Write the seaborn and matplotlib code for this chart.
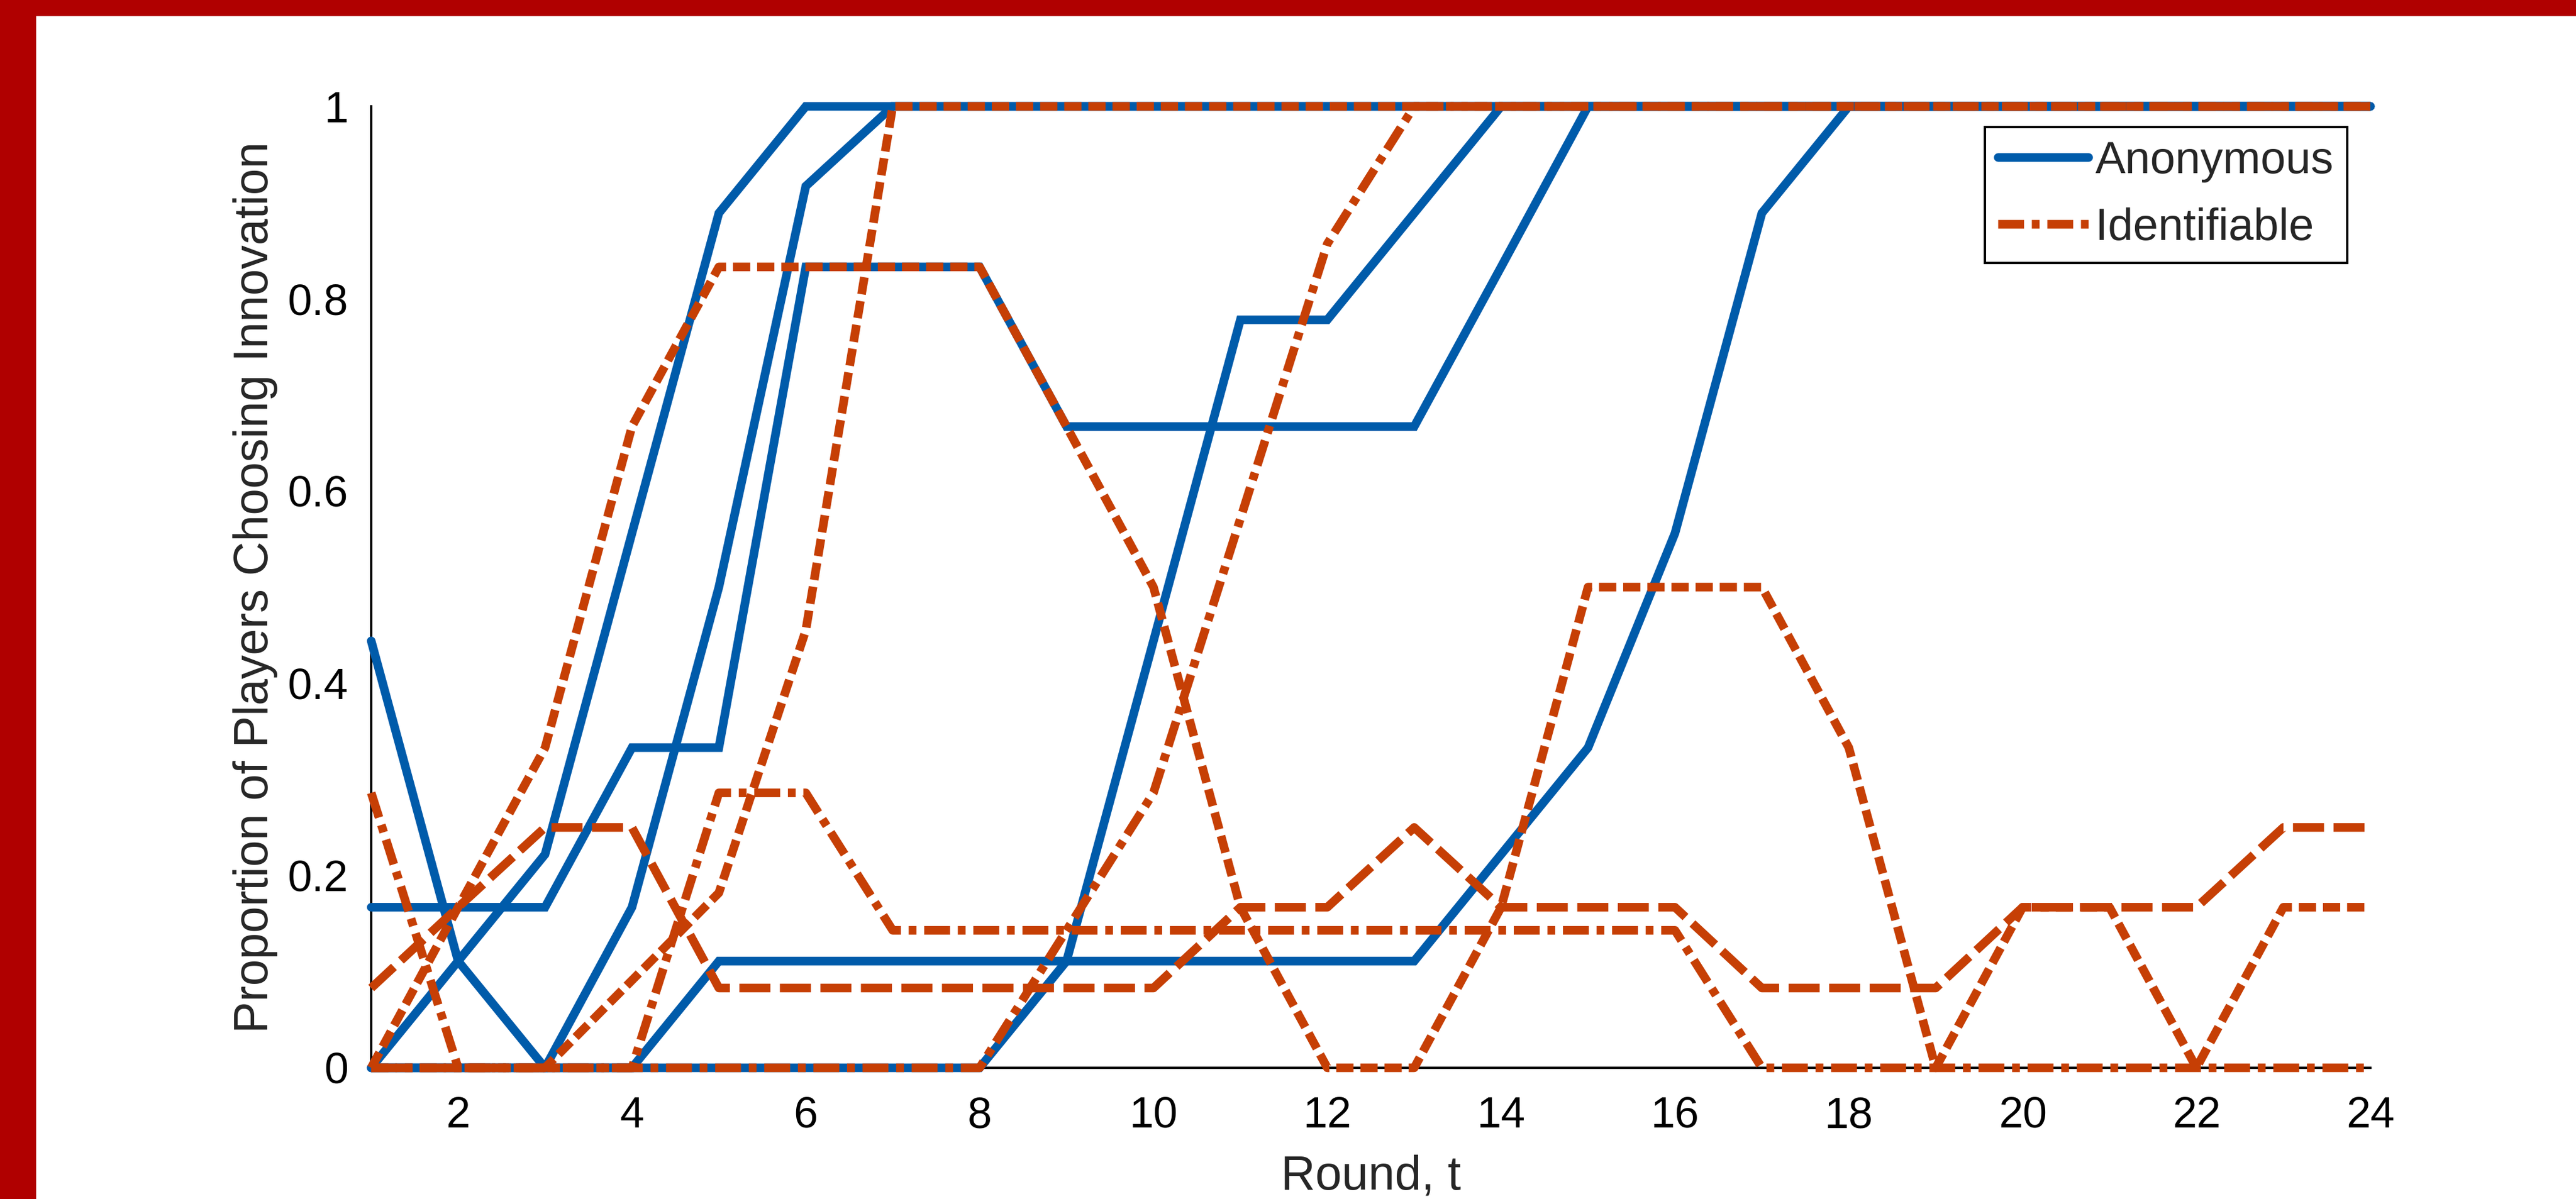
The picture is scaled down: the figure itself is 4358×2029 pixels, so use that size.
import numpy as np
import pandas as pd
import matplotlib
matplotlib.use("Agg")
import matplotlib.pyplot as plt
from matplotlib.lines import Line2D
from matplotlib.patches import Rectangle
import seaborn as sns

# === Data (proportion of players choosing innovation, rounds 1-24) ===
rounds = list(range(1, 25))

anon_1 = [0, .111, .222, .556, .889] + [1] * 19
anon_2 = [.444, .111, 0, 0] + [.111] * 9 + [.222, .333, .556, .889] + [1] * 7
anon_3 = [.167, .167, .167, .333, .333, .833, .833, .833] + [.667] * 5 + [.833] + [1] * 10
anon_4 = [0, 0, 0, .167, .5, .917] + [1] * 18
anon_5 = [0] * 8 + [.111, .444, .778, .778, .889] + [1] * 11

ident_1 = [.286, 0, 0, 0, .286, .286] + [.143] * 10 + [0] * 8
ident_2 = [.083, .167, .25, .25] + [.083] * 6 + [.167, .167, .25, .167, .167, .167,
                                                  .083, .083, .083, .167, .167, .167, .25, .25]
ident_3 = [0, .167, .333, .667, .833, .833, .833, .833, .667, .5, .167, 0, 0, .167,
           .5, .5, .5, .333, 0, .167, .167, 0, .167, .167]
ident_4 = [0, 0, 0, .091, .182, .455] + [1] * 18
ident_5 = [0] * 8 + [.143, .286, .571, .857] + [1] * 12

anon_series = [anon_1, anon_2, anon_3, anon_4, anon_5]
ident_series = [ident_1, ident_2, ident_3, ident_4, ident_5]
ident_dashes = [(3.0, 0.9, 0.9, 0.9), (3.6, 1.1), (2.0, 0.8), (2.0, 0.8), (3.0, 0.9, 0.9, 0.9)]

x_ticks = list(range(2, 25, 2))
y_ticks = [0, 0.2, 0.4, 0.6, 0.8, 1]
y_tick_labels = ["0", "0.2", "0.4", "0.6", "0.8", "1"]

blue = "#005BAA"
orange = "#C63F05"
lw = 10.5

# === Style ===
sns.set_style("white")
plt.rcParams["font.family"] = ["Liberation Sans", "DejaVu Sans"]

fig = plt.figure(figsize=(43.58, 20.29), dpi=100)
ax = fig.add_axes([628 / 4358, 222 / 2029, (4010 - 628) / 4358, (1807 - 180) / 2029])

# === Lines ===
for vals in anon_series:
    sns.lineplot(x=rounds, y=vals, ax=ax, color=blue, linewidth=lw, clip_on=False,
                 solid_joinstyle="miter", zorder=3)
for vals, d in zip(ident_series, ident_dashes):
    sns.lineplot(x=rounds, y=vals, ax=ax, color=orange, linewidth=lw, clip_on=False,
                 zorder=4)
    ax.lines[-1].set_dashes(d)

# === Axes ===
ax.set_xlim(1, 24)
ax.set_ylim(0, 1)
ax.set_xticks(x_ticks)
ax.set_yticks(y_ticks)
ax.set_yticklabels(y_tick_labels)
sns.despine(ax=ax, top=True, right=True)
for sp in ["left", "bottom"]:
    ax.spines[sp].set_linewidth(2.9)
    ax.spines[sp].set_color("black")
ax.tick_params(direction="in", length=25, width=2.9, labelsize=53, colors="black")
ax.tick_params(axis="y", pad=28)
ax.tick_params(axis="x", pad=34)
ax.set_xlabel("Round, t", fontsize=58, labelpad=22)
ax.set_ylabel("Proportion of Players Choosing Innovation", fontsize=58, labelpad=12)

# === Legend ===
handles = [Line2D([], [], color=blue, lw=lw),
           Line2D([], [], color=orange, lw=lw, dashes=(3.0, 0.9, 0.9, 0.9))]
leg = ax.legend(handles, ["Anonymous", "Identifiable"], loc="upper right",
                bbox_to_anchor=(3971 / 4358, 1 - 215 / 2029), bbox_transform=fig.transFigure,
                fontsize=55, frameon=True, fancybox=False, framealpha=1, edgecolor="black",
                borderpad=0.3, labelspacing=0.55, handlelength=2.0, handletextpad=0.15,
                borderaxespad=0)
leg.get_frame().set_linewidth(2.9)

# === Red border strips ===
fig.patches.append(Rectangle((0, 1 - 26 / 2029), 1, 26 / 2029, transform=fig.transFigure,
                             color="#B00000", zorder=10))
fig.patches.append(Rectangle((0, 0), 60 / 4358, 1, transform=fig.transFigure,
                             color="#B00000", zorder=10))

fig.savefig("out.png", dpi=100, facecolor="white")
